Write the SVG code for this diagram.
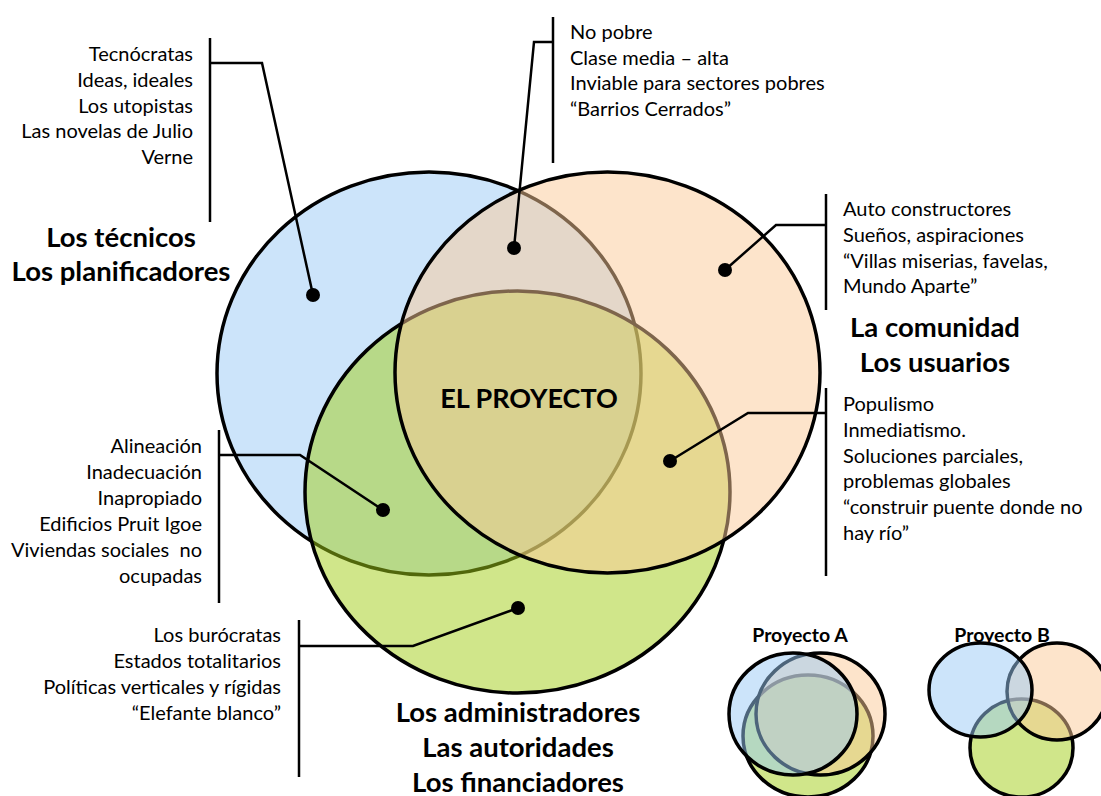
<svg xmlns="http://www.w3.org/2000/svg" width="1101" height="796" viewBox="0 0 1101 796">
<style>
  text { font-family: Lato, "Liberation Sans", sans-serif; fill: #000; }
  .t { font-size: 20px; }
  .h { font-size: 27.5px; font-weight: bold; }
  .p { font-size: 27px; font-weight: bold; }
  .s { font-size: 19.5px; font-weight: bold; }
  .r { text-anchor: end; }
  .m { text-anchor: middle; }
  .c { stroke: #000; stroke-width: 3.5; fill-opacity: 0.5; }
  .cb { fill: #99C9F5; }
  .co { fill: #FBC997; }
  .cg { fill: #A1CD15; }
  .bar { stroke: #000; stroke-width: 2.5; fill: none; }
  .ld { stroke: #000; stroke-width: 2.5; fill: none; }
  .dot { fill: #000; }
</style>
<rect width="1101" height="796" fill="#fff"/>

<g id="venn-main">
  <ellipse id="circle-tecnicos" class="c cb" cx="429" cy="373.5" rx="212" ry="201.5"/>
  <ellipse id="circle-administradores" class="c cg" cx="517.5" cy="492" rx="212.5" ry="201"/>
  <ellipse id="circle-comunidad" class="c co" cx="607.5" cy="372.5" rx="212.5" ry="200.5"/>
</g>

<g id="node-proyecto">
  <text class="p m" x="529" y="408">EL PROYECTO</text>
</g>

<g id="node-tecnicos">
  <text class="h m" x="121" y="247">Los técnicos</text>
  <text class="h m" x="121" y="281">Los planificadores</text>
</g>

<g id="node-comunidad">
  <text class="h m" x="935" y="337">La comunidad</text>
  <text class="h m" x="935" y="372">Los usuarios</text>
</g>

<g id="node-administradores">
  <text class="h m" x="518" y="722">Los administradores</text>
  <text class="h m" x="518" y="757">Las autoridades</text>
  <text class="h m" x="518" y="792">Los financiadores</text>
</g>

<g id="note-tecnicos">
  <line class="bar" x1="210" y1="38" x2="210" y2="222"/>
  <text class="t r" x="193" y="61">Tecnócratas</text>
  <text class="t r" x="193" y="87">Ideas, ideales</text>
  <text class="t r" x="193" y="112.5">Los utopistas</text>
  <text class="t r" x="193" y="138">Las novelas de Julio</text>
  <text class="t r" x="193" y="163.5">Verne</text>
</g>

<g id="note-tecnicos-comunidad">
  <line class="bar" x1="553" y1="17" x2="553" y2="163"/>
  <text class="t" x="570" y="39">No pobre</text>
  <text class="t" x="570" y="64.5">Clase media – alta</text>
  <text class="t" x="570" y="90">Inviable para sectores pobres</text>
  <text class="t" x="570" y="116">“Barrios Cerrados”</text>
</g>

<g id="note-comunidad">
  <line class="bar" x1="826" y1="194" x2="826" y2="310"/>
  <text class="t" x="843" y="216">Auto constructores</text>
  <text class="t" x="843" y="242">Sueños, aspiraciones</text>
  <text class="t" x="843" y="267.5">“Villas miserias, favelas,</text>
  <text class="t" x="843" y="293">Mundo Aparte”</text>
</g>

<g id="note-comunidad-administradores">
  <line class="bar" x1="826" y1="388" x2="826" y2="576"/>
  <text class="t" x="843" y="411">Populismo</text>
  <text class="t" x="843" y="437">Inmediatismo.</text>
  <text class="t" x="843" y="462.5">Soluciones parciales,</text>
  <text class="t" x="843" y="488">problemas globales</text>
  <text class="t" x="843" y="514">“construir puente donde no</text>
  <text class="t" x="843" y="540">hay río”</text>
</g>

<g id="note-tecnicos-administradores">
  <line class="bar" x1="219" y1="430" x2="219" y2="603"/>
  <text class="t r" x="202" y="453">Alineación</text>
  <text class="t r" x="202" y="479">Inadecuación</text>
  <text class="t r" x="202" y="505">Inapropiado</text>
  <text class="t r" x="202" y="531">Edificios Pruit Igoe</text>
  <text class="t r" x="202" y="556.5" xml:space="preserve">Viviendas sociales  no</text>
  <text class="t r" x="202" y="582.5">ocupadas</text>
</g>

<g id="note-administradores">
  <line class="bar" x1="299" y1="620" x2="299" y2="777"/>
  <text class="t r" x="281" y="641.5">Los burócratas</text>
  <text class="t r" x="281" y="668">Estados totalitarios</text>
  <text class="t r" x="281" y="694">Políticas verticales y rígidas</text>
  <text class="t r" x="281" y="720">“Elefante blanco”</text>
</g>

<g id="connectors">
  <polyline class="ld" points="210,63 262,63 313,295"/>
  <circle class="dot" cx="313" cy="295" r="7"/>
  <polyline class="ld" points="553,42 534,42 514,248"/>
  <circle class="dot" cx="514" cy="248" r="7"/>
  <polyline class="ld" points="826,225 776,225 725,270"/>
  <circle class="dot" cx="725" cy="270" r="7"/>
  <polyline class="ld" points="826,413 748,413 670,461"/>
  <circle class="dot" cx="670" cy="461" r="7"/>
  <polyline class="ld" points="219,455 300,455 383,510"/>
  <circle class="dot" cx="383" cy="510" r="7"/>
  <polyline class="ld" points="299,646 413,646 518,608"/>
  <circle class="dot" cx="518" cy="608" r="7"/>
</g>

<g id="proyecto-a">
  <text class="s m" x="800" y="642">Proyecto A</text>
  <ellipse class="c cg" cx="808" cy="736" rx="65" ry="61"/>
  <ellipse class="c co" cx="820.5" cy="714" rx="64.5" ry="61"/>
  <ellipse class="c cb" cx="793" cy="714" rx="64" ry="61"/>
</g>

<g id="proyecto-b">
  <text class="s m" x="1002" y="642">Proyecto B</text>
  <ellipse class="c cg" cx="1021.5" cy="748" rx="51.5" ry="49"/>
  <ellipse class="c co" cx="1057" cy="691.5" rx="50" ry="48.5"/>
  <ellipse class="c cb" cx="980.5" cy="690" rx="51.5" ry="47"/>
</g>
</svg>
